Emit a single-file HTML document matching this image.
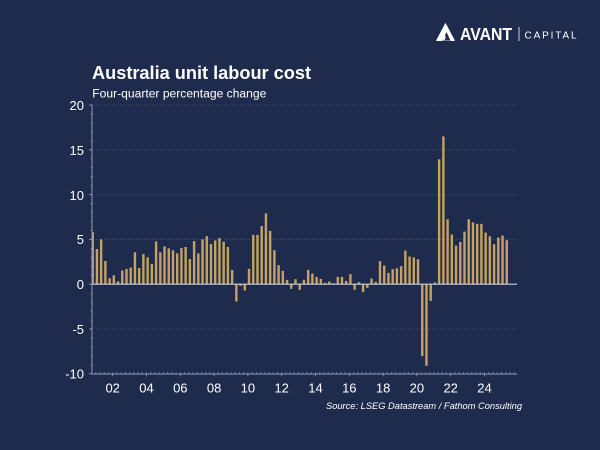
<!DOCTYPE html>
<html><head><meta charset="utf-8"><style>
html,body{margin:0;padding:0;background:#1e2b4c;}
svg{display:block;}
text{font-family:"Liberation Sans",Arial,sans-serif;}
</style></head><body>
<svg width="600" height="450" viewBox="0 0 600 450" xmlns="http://www.w3.org/2000/svg">
<rect width="600" height="450" fill="#1e2b4c"/>
<path d="M445.5 23.8 L454.3 40.5 L436.7 40.5 Z" fill="#ffffff" stroke="#ffffff" stroke-width="1" stroke-linejoin="round"/>
<path d="M446.5 32 L450.5 40.6 L442.5 40.6 Z" fill="#1e2b4c"/>
<path d="M443.6 33.8 C446 35.8 446.2 38.6 444.2 40.4 C442 39 441.8 36.2 443.6 33.8 Z" fill="#ffffff"/>
<text x="460" y="40" font-size="17.5" font-weight="bold" fill="#ffffff" textLength="52" lengthAdjust="spacingAndGlyphs">AVANT</text>
<rect x="518.5" y="27" width="1" height="14" fill="#c8cfdc"/>
<text x="524.5" y="38.3" font-size="10" fill="#ffffff" textLength="52" lengthAdjust="spacing">CAPITAL</text>
<text x="92" y="79" font-size="18" font-weight="bold" fill="#ffffff" textLength="219" lengthAdjust="spacingAndGlyphs">Australia unit labour cost</text>
<text x="92.3" y="97.3" font-size="11.5" fill="#ffffff" textLength="174" lengthAdjust="spacingAndGlyphs">Four-quarter percentage change</text>
<g stroke="#34466b" stroke-width="1" stroke-dasharray="2,2">
<line x1="92" y1="105" x2="517" y2="105"/>
<line x1="92" y1="150" x2="517" y2="150"/>
<line x1="92" y1="195" x2="517" y2="195"/>
<line x1="92" y1="239.4" x2="517" y2="239.4"/>
<line x1="92" y1="329" x2="517" y2="329"/>
</g>
<g font-size="13" fill="#ffffff" text-anchor="end">
<text x="84" y="110">20</text>
<text x="84" y="155">15</text>
<text x="84" y="200">10</text>
<text x="84" y="244.2">5</text>
<text x="84" y="289">0</text>
<text x="84" y="333.8">-5</text>
<text x="84" y="378.5">-10</text>
</g>
<g font-size="13" fill="#ffffff" text-anchor="middle">
<text x="112.7" y="392.5">02</text>
<text x="146.5" y="392.5">04</text>
<text x="180.3" y="392.5">06</text>
<text x="214.1" y="392.5">08</text>
<text x="247.9" y="392.5">10</text>
<text x="281.7" y="392.5">12</text>
<text x="315.5" y="392.5">14</text>
<text x="349.3" y="392.5">16</text>
<text x="383.1" y="392.5">18</text>
<text x="416.9" y="392.5">20</text>
<text x="450.7" y="392.5">22</text>
<text x="484.5" y="392.5">24</text>
</g>
<text x="522" y="409" font-size="9.5" font-style="italic" fill="#ffffff" text-anchor="end" textLength="196" lengthAdjust="spacingAndGlyphs">Source: LSEG Datastream / Fathom Consulting</text>
<g fill="#c6a262">
<rect x="91.50" y="232.14" width="2.4" height="52.06"/>
<rect x="95.73" y="248.99" width="2.4" height="35.21"/>
<rect x="99.95" y="239.40" width="2.4" height="44.80"/>
<rect x="104.18" y="260.99" width="2.4" height="23.21"/>
<rect x="108.40" y="278.20" width="2.4" height="6.00"/>
<rect x="112.63" y="275.24" width="2.4" height="8.96"/>
<rect x="116.85" y="281.24" width="2.4" height="2.96"/>
<rect x="121.08" y="270.58" width="2.4" height="13.62"/>
<rect x="125.30" y="268.97" width="2.4" height="15.23"/>
<rect x="129.53" y="267.62" width="2.4" height="16.58"/>
<rect x="133.75" y="252.30" width="2.4" height="31.90"/>
<rect x="137.98" y="267.98" width="2.4" height="16.22"/>
<rect x="142.20" y="254.00" width="2.4" height="30.20"/>
<rect x="146.43" y="257.32" width="2.4" height="26.88"/>
<rect x="150.65" y="263.95" width="2.4" height="20.25"/>
<rect x="154.88" y="241.37" width="2.4" height="42.83"/>
<rect x="159.10" y="252.30" width="2.4" height="31.90"/>
<rect x="163.33" y="246.39" width="2.4" height="37.81"/>
<rect x="167.55" y="248.36" width="2.4" height="35.84"/>
<rect x="171.78" y="250.33" width="2.4" height="33.87"/>
<rect x="176.00" y="253.38" width="2.4" height="30.82"/>
<rect x="180.23" y="248.00" width="2.4" height="36.20"/>
<rect x="184.45" y="247.02" width="2.4" height="37.18"/>
<rect x="188.68" y="259.02" width="2.4" height="25.18"/>
<rect x="192.90" y="241.10" width="2.4" height="43.10"/>
<rect x="197.13" y="253.38" width="2.4" height="30.82"/>
<rect x="201.35" y="239.40" width="2.4" height="44.80"/>
<rect x="205.58" y="236.08" width="2.4" height="48.12"/>
<rect x="209.80" y="244.06" width="2.4" height="40.14"/>
<rect x="214.03" y="240.39" width="2.4" height="43.81"/>
<rect x="218.25" y="238.06" width="2.4" height="46.14"/>
<rect x="222.48" y="241.73" width="2.4" height="42.47"/>
<rect x="226.70" y="247.02" width="2.4" height="37.18"/>
<rect x="230.93" y="269.95" width="2.4" height="14.25"/>
<rect x="235.15" y="284.20" width="2.4" height="17.29"/>
<rect x="239.38" y="284.20" width="2.4" height="1.70"/>
<rect x="243.60" y="284.20" width="2.4" height="6.27"/>
<rect x="247.83" y="268.88" width="2.4" height="15.32"/>
<rect x="252.05" y="234.92" width="2.4" height="49.28"/>
<rect x="256.28" y="234.92" width="2.4" height="49.28"/>
<rect x="260.50" y="225.96" width="2.4" height="58.24"/>
<rect x="264.73" y="213.42" width="2.4" height="70.78"/>
<rect x="268.95" y="230.89" width="2.4" height="53.31"/>
<rect x="273.18" y="250.24" width="2.4" height="33.96"/>
<rect x="277.40" y="265.20" width="2.4" height="19.00"/>
<rect x="281.63" y="270.85" width="2.4" height="13.35"/>
<rect x="285.85" y="279.90" width="2.4" height="4.30"/>
<rect x="290.08" y="284.20" width="2.4" height="4.66"/>
<rect x="294.30" y="279.18" width="2.4" height="5.02"/>
<rect x="298.53" y="284.20" width="2.4" height="5.64"/>
<rect x="302.75" y="279.90" width="2.4" height="4.30"/>
<rect x="306.98" y="269.86" width="2.4" height="14.34"/>
<rect x="311.20" y="273.54" width="2.4" height="10.66"/>
<rect x="315.43" y="276.85" width="2.4" height="7.35"/>
<rect x="319.65" y="278.91" width="2.4" height="5.29"/>
<rect x="323.88" y="282.86" width="2.4" height="1.34"/>
<rect x="328.10" y="281.51" width="2.4" height="2.69"/>
<rect x="332.33" y="283.21" width="2.4" height="0.99"/>
<rect x="336.55" y="276.85" width="2.4" height="7.35"/>
<rect x="340.78" y="276.85" width="2.4" height="7.35"/>
<rect x="345.00" y="280.88" width="2.4" height="3.32"/>
<rect x="349.23" y="274.16" width="2.4" height="10.04"/>
<rect x="353.45" y="284.20" width="2.4" height="5.64"/>
<rect x="357.68" y="282.23" width="2.4" height="1.97"/>
<rect x="361.90" y="284.20" width="2.4" height="7.97"/>
<rect x="366.13" y="284.20" width="2.4" height="3.67"/>
<rect x="370.35" y="278.56" width="2.4" height="5.64"/>
<rect x="374.58" y="281.87" width="2.4" height="2.33"/>
<rect x="378.80" y="261.17" width="2.4" height="23.03"/>
<rect x="383.03" y="265.56" width="2.4" height="18.64"/>
<rect x="387.25" y="272.91" width="2.4" height="11.29"/>
<rect x="391.48" y="269.24" width="2.4" height="14.96"/>
<rect x="395.70" y="268.25" width="2.4" height="15.95"/>
<rect x="399.93" y="266.28" width="2.4" height="17.92"/>
<rect x="404.15" y="250.60" width="2.4" height="33.60"/>
<rect x="408.38" y="256.51" width="2.4" height="27.69"/>
<rect x="412.60" y="257.32" width="2.4" height="26.88"/>
<rect x="416.83" y="259.20" width="2.4" height="25.00"/>
<rect x="421.05" y="284.20" width="2.4" height="71.95"/>
<rect x="425.28" y="284.20" width="2.4" height="81.54"/>
<rect x="429.50" y="284.20" width="2.4" height="16.67"/>
<rect x="433.73" y="282.50" width="2.4" height="1.70"/>
<rect x="437.95" y="159.30" width="2.4" height="124.90"/>
<rect x="442.18" y="136.36" width="2.4" height="147.84"/>
<rect x="446.40" y="219.24" width="2.4" height="64.96"/>
<rect x="450.63" y="234.56" width="2.4" height="49.64"/>
<rect x="454.85" y="245.58" width="2.4" height="38.62"/>
<rect x="459.08" y="241.91" width="2.4" height="42.29"/>
<rect x="463.30" y="231.60" width="2.4" height="52.60"/>
<rect x="467.53" y="219.24" width="2.4" height="64.96"/>
<rect x="471.75" y="222.29" width="2.4" height="61.91"/>
<rect x="475.98" y="223.90" width="2.4" height="60.30"/>
<rect x="480.20" y="223.90" width="2.4" height="60.30"/>
<rect x="484.43" y="232.59" width="2.4" height="51.61"/>
<rect x="488.65" y="236.26" width="2.4" height="47.94"/>
<rect x="492.88" y="244.24" width="2.4" height="39.96"/>
<rect x="497.10" y="237.61" width="2.4" height="46.59"/>
<rect x="501.33" y="235.55" width="2.4" height="48.65"/>
<rect x="505.55" y="240.21" width="2.4" height="43.99"/>
</g>
<line x1="92" y1="284.2" x2="517" y2="284.2" stroke="#c9cfdb" stroke-width="1.2"/>
<line x1="92" y1="105" x2="92" y2="374" stroke="#8e9cb6" stroke-width="1"/>
<line x1="91.25" y1="104.6" x2="91.25" y2="374.3" stroke="#8e9cb6" stroke-width="1.5" stroke-dasharray="0.8,8.16"/>
<line x1="90.5" y1="104.6" x2="90.5" y2="374.3" stroke="#8e9cb6" stroke-width="3" stroke-dasharray="0.8,44"/>
<line x1="92" y1="374" x2="517" y2="374" stroke="#8e9cb6" stroke-width="1"/>
<line x1="95.4" y1="373" x2="516" y2="373" stroke="#8e9cb6" stroke-width="1.5" stroke-dasharray="0.8,3.425"/>
<line x1="112.3" y1="375.2" x2="500" y2="375.2" stroke="#8e9cb6" stroke-width="2" stroke-dasharray="0.8,33"/>
</svg>
</body></html>
